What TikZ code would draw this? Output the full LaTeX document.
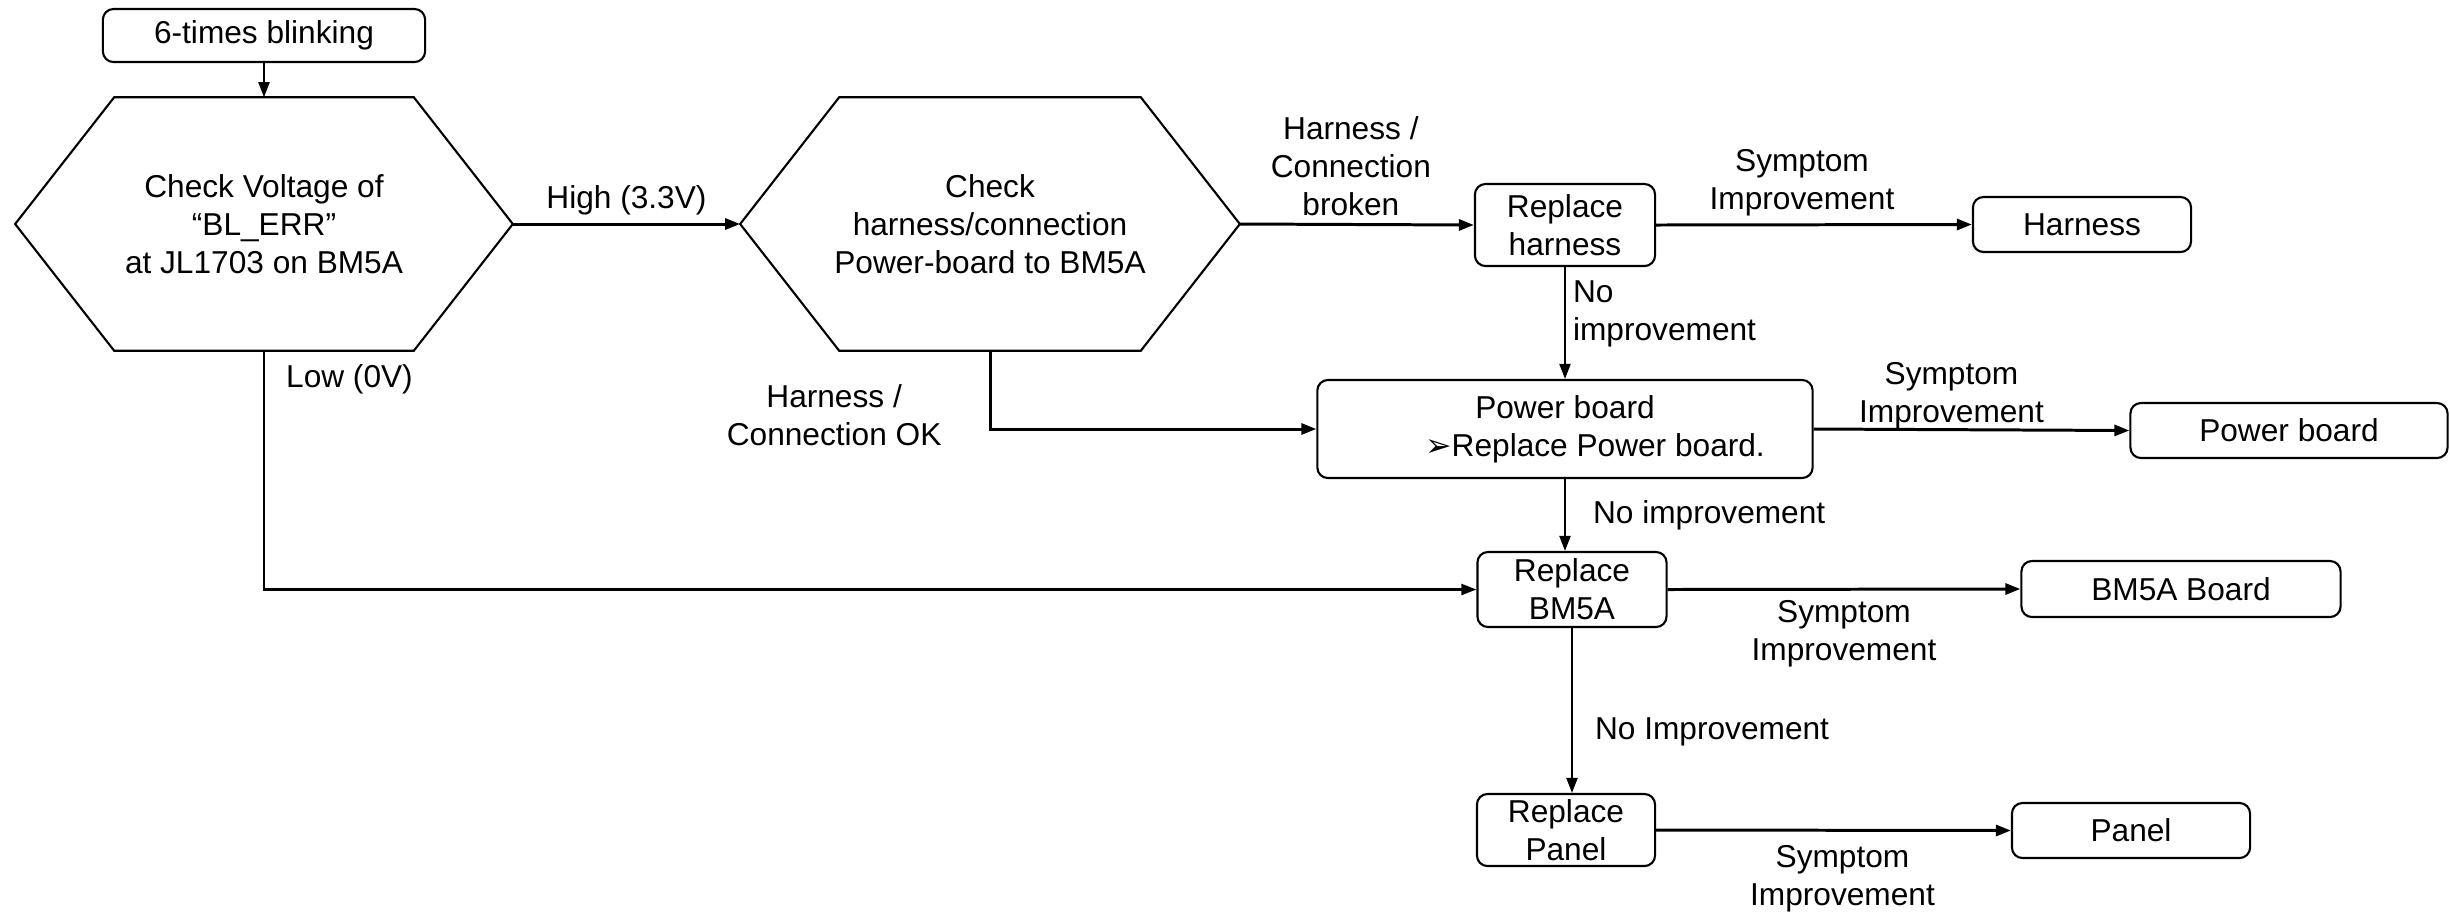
\documentclass[tikz,border=0pt]{standalone}
\usepackage{fontspec}
\setmainfont{Liberation Sans}
\newfontfamily\symfont{DejaVu Sans}
\usetikzlibrary{arrows.meta, positioning}

\tikzset{
    box/.style = {draw, rounded corners = 3pt, line width = 0.6pt, align = center, inner sep = 1pt},
    hexbox/.style = {align = center, minimum width = 4.96cm, minimum height = 2.52cm},
    flow/.style = {line width = 0.85pt, -{Triangle[length = 0.15cm, width = 0.11cm]}},
    drop/.style = {flow, line width = 0.6pt},
    lbl/.style = {align = center, inner sep = 2pt},
}

\begin{document}
\begin{tikzpicture}[x = 0.01cm, y = -0.01cm, font = \fontsize{9}{10.8}\selectfont]
    \useasboundingbox (0, 0) rectangle (2450, 914);
    % start and the two checks
    \node[box, minimum width = 3.22cm, minimum height = 0.53cm] (blink) at (264, 35.5) {6-times blinking};
    \node[hexbox] (chkvolt) at (264, 224) {Check Voltage of\\“BL\_ERR”\\at JL1703 on BM5A};
    \node[hexbox, minimum width = 4.98cm] (chkharn) at (990, 224) {Check\\harness/connection\\Power-board to BM5A};
    \foreach \h in {chkvolt, chkharn}{
        \draw[line width = 0.6pt] (\h.west) -- ([xshift = 0.99cm]\h.north west) -- ([xshift = -0.99cm]\h.north east) -- (\h.east) -- ([xshift = -0.99cm]\h.south east) -- ([xshift = 0.99cm]\h.south west) -- cycle;
    }
    % repair steps
    \node[box, minimum width = 1.80cm, minimum height = 0.82cm] (rharn) at (1565, 225) {Replace\\harness};
    \node[box, minimum width = 4.95cm, minimum height = 0.98cm] (pwr) at (1565, 429) {Power board\\\hspace*{0.6cm}{\symfont ➢}Replace Power board.};
    \node[box, minimum width = 1.89cm, minimum height = 0.75cm] (rbm) at (1572, 589.5) {Replace\\BM5A};
    \node[box, minimum width = 1.78cm, minimum height = 0.72cm] (rpanel) at (1566, 830) {Replace\\Panel};
    % results
    \node[box, minimum width = 2.18cm, minimum height = 0.55cm] (harn) at (2082, 224.5) {Harness};
    \node[box, minimum width = 3.17cm, minimum height = 0.55cm] (pwrok) at (2289, 430.5) {Power board};
    \node[box, minimum width = 3.19cm, minimum height = 0.56cm] (bmok) at (2181, 589) {BM5A Board};
    \node[box, minimum width = 2.38cm, minimum height = 0.55cm] (panelok) at (2131, 830.5) {Panel};
    % connectors
    \draw[drop] (blink) -- (chkvolt);
    \draw[flow] (chkvolt.east) -- node[lbl, above] {High (3.3V)} (chkharn.west);
    \draw[drop] (chkvolt.south) |- node[lbl, pos = 0.06, right = 4pt] {Low (0V)} (rbm.west);
    \draw[flow] (chkharn.south) |- node[lbl, pos = 0.41, left = 0.4cm] {Harness /\\Connection OK} (pwr.west);
    \draw[flow] (chkharn.east) -- node[lbl, above, xshift = -0.06cm] {Harness /\\Connection\\broken} (rharn.west);
    \draw[flow] (rharn.east) -- node[lbl, above, xshift = -0.12cm] {Symptom\\Improvement} (harn.west);
    \draw[drop] (rharn.south) -- node[lbl, right, align = left, pos = 0.42] {No\\improvement} (rharn.south |- pwr.north);
    \draw[flow] (pwr.east) -- node[lbl, above, xshift = -0.2cm, yshift = -0.08cm] {Symptom\\Improvement} (pwrok.west);
    \draw[drop] (pwr.south) -- node[lbl, right = 0.2cm] {No improvement} (pwr.south |- rbm.north);
    \draw[flow] (rbm.east) -- node[lbl, below, yshift = -0.03cm] {Symptom\\Improvement} (bmok.west);
    \draw[drop] (rbm.south) -- node[lbl, right = 0.15cm, pos = 0.63] {No Improvement} (rbm.south |- rpanel.north);
    \draw[flow] (rpanel.east) -- node[lbl, below, xshift = 0.09cm, yshift = -0.07cm] {Symptom\\Improvement} (panelok.west);
\end{tikzpicture}
\end{document}
